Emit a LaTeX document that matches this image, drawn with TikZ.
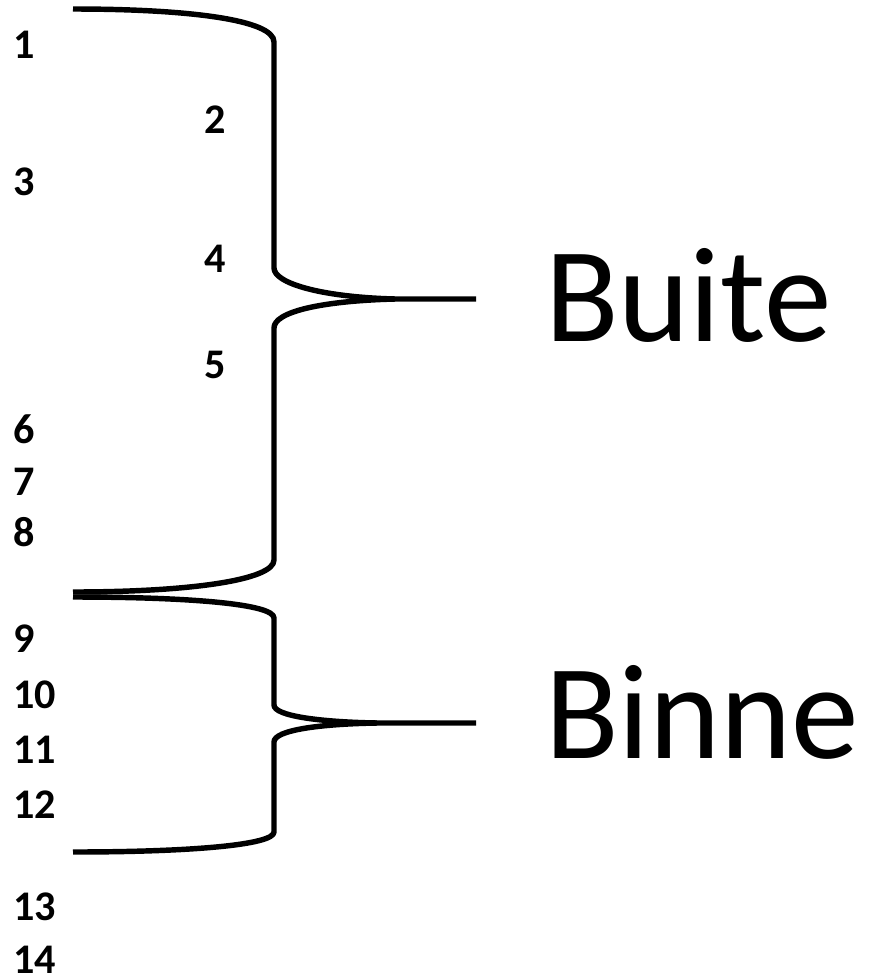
\documentclass[tikz,border=0pt]{standalone}
\usepackage{fontspec}
\setmainfont{Carlito}
\usepackage{tikz}

\tikzset{
  num/.style={anchor=west, inner sep=0pt, font=\fontsize{24}{28}\selectfont\bfseries},
  part/.style={anchor=west, inner sep=0pt, font=\fontsize{77}{92}\selectfont},
  brace/.style={line width=3.1pt, line join=round}
}

\begin{document}
\begin{tikzpicture}[x=0.02cm, y=-0.02cm]
\useasboundingbox (0,0) rectangle (874,978);

% line numbers
\node[num] (n1) at (13,45) {1};
\node[num] (n2) at (204,120) {2};
\node[num] (n3) at (13,182) {3};
\node[num] (n4) at (204,259) {4};
\node[num] (n5) at (204,365) {5};
\node[num] (n6) at (13,429) {6};
\node[num] (n7) at (13,482) {7};
\node[num] (n8) at (13,532) {8};
\node[num] (n9) at (13,639) {9};
\node[num] (n10) at (13,695) {10};
\node[num] (n11) at (13,750) {11};
\node[num] (n12) at (13,805) {12};
\node[num] (n13) at (13,907) {13};
\node[num] (n14) at (13,960) {14};

% labels
\node[part] (buite) at (545,295) {Buite};
\node[part] (binne) at (545,712) {Binne};

% braces
\draw[brace] (73,9) .. controls (190,9) and (274,20) .. (274,42) -- (274,268)
  .. controls (274,283) and (320,297) .. (395,299) -- (476,299);
\draw[brace] (395,299) .. controls (320,301) and (274,312) .. (274,328) -- (274,560)
  .. controls (274,580) and (190,592) .. (73,592);

\draw[brace] (73,597) .. controls (190,597) and (274,604) .. (274,618) -- (274,705)
  .. controls (274,716) and (320,722) .. (377,723) -- (476,723);
\draw[brace] (377,723) .. controls (320,724) and (274,730) .. (274,742) -- (274,832)
  .. controls (274,845) and (190,852) .. (73,852);
\end{tikzpicture}
\end{document}
